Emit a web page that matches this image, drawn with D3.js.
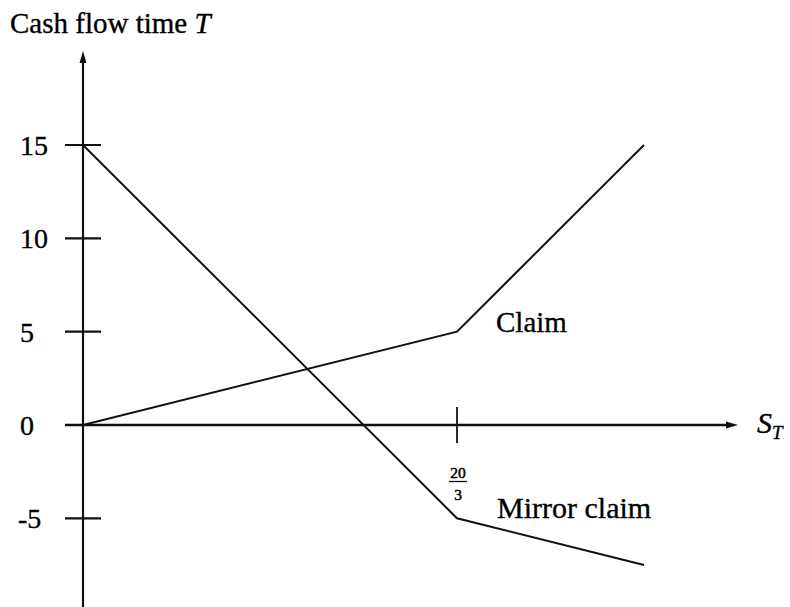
<!DOCTYPE html>
<html><head><meta charset="utf-8">
<script src="https://cdn.jsdelivr.net/npm/d3@7"></script>
<style>body{margin:0;background:#fff}svg{display:block}text{font-family:"Liberation Serif","DejaVu Serif",serif;fill:#000;stroke:#000;stroke-width:0.35px}</style>
</head><body>
<svg id="c" width="790" height="607"></svg>
<script>
const sValues = [0, 20/3, 10];
const claimValues = [0, 5, 15];
const mirrorValues = [15, -5, -7.5];
const yTickValues = [-5, 0, 5, 10, 15];
const yTickLabels = ["-5", "0", "5", "10", "15"];
const xTickValues = [20/3];

const svg = d3.select("#c");
const x = d3.scaleLinear().domain([0, 10]).range([83, 644]);
const y = d3.scaleLinear().domain([-5, 15]).range([518.3, 145]);

const ink = "#111";
// y axis
svg.append("line").attr("x1", x(0)).attr("x2", x(0)).attr("y1", 607).attr("y2", 58)
  .attr("stroke", ink).attr("stroke-width", 2.2);
svg.append("path").attr("d", `M${x(0)},51 L${x(0)-3.5},63 L${x(0)+3.5},63 Z`).attr("fill", ink);
// x axis
svg.append("line").attr("x1", 65).attr("x2", 731).attr("y1", y(0)).attr("y2", y(0))
  .attr("stroke", ink).attr("stroke-width", 2.4);
svg.append("path").attr("d", `M738,${y(0)} L726,${y(0)-3.5} L726,${y(0)+3.5} Z`).attr("fill", ink);

// y ticks
svg.selectAll(".yt").data(yTickValues).enter().append("line")
  .attr("x1", x(0) - 18).attr("x2", x(0) + 18)
  .attr("y1", d => y(d)).attr("y2", d => y(d))
  .attr("stroke", ink).attr("stroke-width", 2.2);
svg.selectAll(".yl").data(yTickValues).enter().append("text")
  .attr("x", (d, i) => yTickLabels[i].startsWith("-") ? 18 : 20)
  .attr("y", d => y(d) + 10)
  .attr("font-size", 28)
  .text((d, i) => yTickLabels[i]);

// x tick
svg.selectAll(".xt").data(xTickValues).enter().append("line")
  .attr("x1", d => x(d)).attr("x2", d => x(d))
  .attr("y1", y(0) - 18).attr("y2", y(0) + 18)
  .attr("stroke", ink).attr("stroke-width", 1.8);
// fraction 20/3
const fx = x(20/3) + 1;
svg.append("text").attr("x", fx).attr("y", 477.5).attr("text-anchor", "middle").attr("font-size", 15.5).style("stroke-width", "0.5px").text("20");
svg.append("line").attr("x1", fx - 9).attr("x2", fx + 9).attr("y1", 481.5).attr("y2", 481.5).attr("stroke", ink).attr("stroke-width", 1.3);
svg.append("text").attr("x", fx).attr("y", 499.5).attr("text-anchor", "middle").attr("font-size", 15.5).style("stroke-width", "0.5px").text("3");

// lines
const lineGen = d3.line().x(d => x(d[0])).y(d => y(d[1]));
svg.append("path").attr("d", lineGen(sValues.map((s, i) => [s, claimValues[i]])))
  .attr("fill", "none").attr("stroke", ink).attr("stroke-width", 2);
svg.append("path").attr("d", lineGen(sValues.map((s, i) => [s, mirrorValues[i]])))
  .attr("fill", "none").attr("stroke", ink).attr("stroke-width", 2);

// labels
const t = svg.append("text").attr("x", 10).attr("y", 33).attr("font-size", 29);
t.append("tspan").text("Cash flow time ");
t.append("tspan").attr("font-style", "italic").text("T");

svg.append("text").attr("x", 496).attr("y", 332).attr("font-size", 29).text("Claim");
svg.append("text").attr("x", 497).attr("y", 518).attr("font-size", 30).text("Mirror claim");

const st = svg.append("text").attr("x", 757).attr("y", 433).attr("font-size", 30).attr("font-style", "italic");
st.append("tspan").text("S");
st.append("tspan").attr("font-size", 19).attr("dy", 6).text("T");
</script>
</body></html>
